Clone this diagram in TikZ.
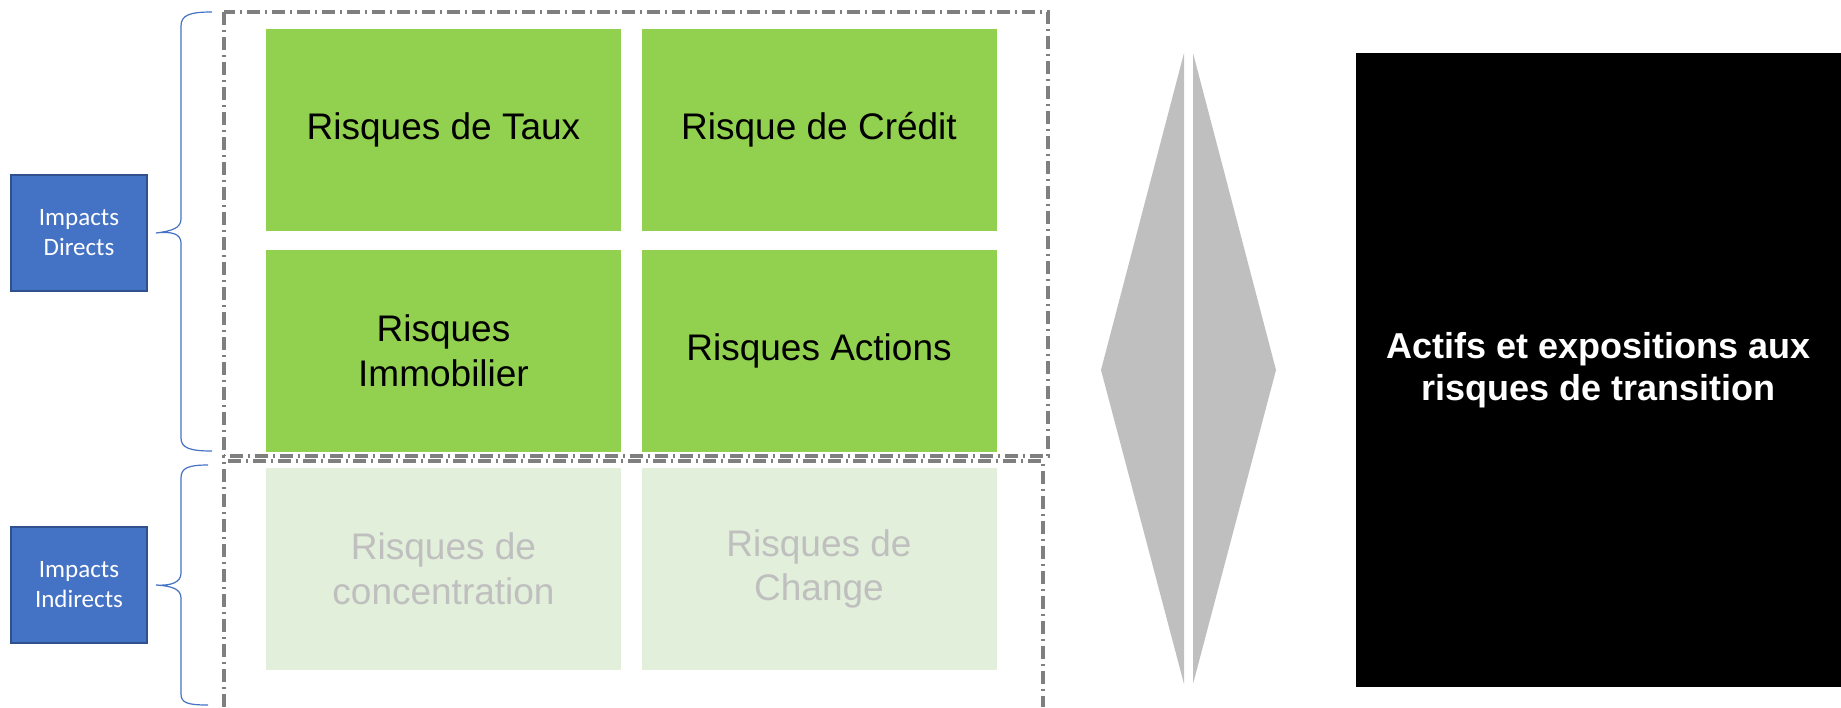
\documentclass[tikz,border=0pt]{standalone}
\usepackage{fontspec}
\setmainfont{Liberation Sans}
\newfontfamily\calibri{Carlito}
\usepackage{tikz}
\definecolor{riskgreen}{HTML}{92D050}
\definecolor{palegreen}{HTML}{E2EFDA}
\definecolor{impactblue}{HTML}{4472C4}
\definecolor{impactedge}{HTML}{2F528F}
\definecolor{framegray}{HTML}{7F7F7F}
\definecolor{arrowgray}{HTML}{BFBFBF}
\newcommand{\clrone}{riskgreen}
\newcommand{\clrtwo}{palegreen}

\begin{document}
\begin{tikzpicture}[x=0.5pt, y=-0.5pt,
    risk/.style={fill=#1, minimum width=177.5pt, minimum height=101pt,
        inner sep=0pt, align=center, font=\fontsize{18.5}{22.3}\selectfont},
    impact/.style={fill=impactblue, draw=impactedge, line width=1pt,
        minimum width=68pt, minimum height=58pt, align=center, text=white,
        font=\calibri\fontsize{12.5}{15}\selectfont},
    frame/.style={draw=framegray, line width=1.6pt,
        dash pattern=on 6.5pt off 2.5pt on 1pt off 2.5pt},
    curly/.style={draw=impactblue, line width=0.6pt}]
    \useasboundingbox (0,0) rectangle (1841,707);

    %direct risks
        \node[risk=\clrone] (taux) at (443.5,130) {Risques de Taux};
        \node[risk=\clrone] (credit) at (819,130) {Risque de Crédit};
        \node[risk=\clrone] (immo) at (443.5,350.5) {Risques\\Immobilier};
        \node[risk=\clrone] (actions) at (819,350.5) {Risques Actions};
    %indirect risks
        \node[risk=\clrtwo, text=arrowgray] (conc) at (443.5,569) {Risques de\\concentration};
        \node[risk=\clrtwo, text=arrowgray] (change) at (819,569) {Risques de\\Change};

    %frames
        \draw[frame] (224,12) rectangle (1048,456);
        \draw[frame] (224,707) -- (224,461) -- (1043,461) -- (1043,707);

    %impact boxes
        \node[impact] (direct) at (79,233) {Impacts\\Directs};
        \node[impact] (indirect) at (79,585) {Impacts\\Indirects};

    %braces
        \draw[curly] (212,12) .. controls (190,12) and (181,15) .. (181,26)
            -- (181,219) .. controls (181,228) and (172,231) .. (direct.east -| 156,0)
            .. controls (172,231) and (181,234) .. (181,243)
            -- (181,438) .. controls (181,448) and (190,451) .. (212,451);
        \draw[curly] (208,465) .. controls (188,465) and (181,468) .. (181,478)
            -- (181,573) .. controls (181,582) and (172,586) .. (indirect.east -| 156,0)
            .. controls (172,586) and (181,589) .. (181,598)
            -- (181,694) .. controls (181,703) and (188,705) .. (208,705);

    %double arrow
        \fill[arrowgray] (1184,53) -- (1101,370) -- (1184,684) -- cycle;
        \fill[arrowgray] (1193,53) -- (1276,370) -- (1193,684) -- cycle;

    %exposures
        \node[fill=black, minimum width=242.5pt, minimum height=317pt, inner sep=0pt,
            align=center, text=white, font=\bfseries\fontsize{18}{21}\selectfont]
            (actifs) at (1598.5,370) {Actifs et expositions aux\\risques de transition};
\end{tikzpicture}
\end{document}
